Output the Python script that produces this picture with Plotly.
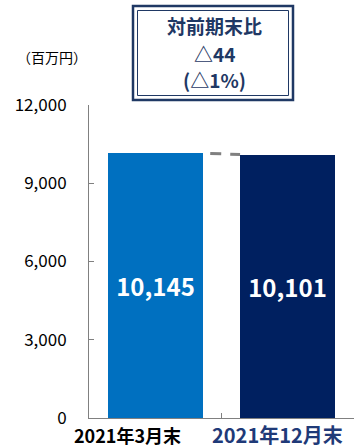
import plotly.graph_objects as go

# Data
categories = ["2021年3月末", "2021年12月末"]
values = [10145, 10101]
bar_colors = ["#0070C0", "#002060"]
y_ticks = [0, 3000, 6000, 9000, 12000]
unit_label = "（百万円）"
change_lines = ["対前期末比", "△44", "(△1%)"]

W, H = 355, 448
ML, MR, MT, MB = 89, 1, 105, 30
PW, PH = W - ML - MR, H - MT - MB


def px(x):
    return (x - ML) / PW


def py(y):
    return (H - MB - y) / PH


FONT = "Noto Sans CJK JP"
NAVY = "#1F3864"

fig = go.Figure()
fig.add_trace(go.Bar(
    x=categories,
    y=values,
    width=0.72,
    marker=dict(color=bar_colors, line=dict(width=0)),
    text=[f"{v:,}" for v in values],
    textposition="inside",
    insidetextanchor="middle",
    textfont=dict(family=FONT, size=24, color="white", weight="bold"),
    hoverinfo="skip",
))

shapes = [
    # dashed connector between the bar tops
    dict(type="line", xref="x", yref="y", x0=0.415, x1=0.64,
         y0=values[0], y1=values[1],
         line=dict(color="#808080", width=3, dash="11px,9px")),
    # double frame around the change box
    dict(type="rect", xref="paper", yref="paper",
         x0=px(133), x1=px(293), y0=py(100), y1=py(6),
         line=dict(color=NAVY, width=2.5)),
    dict(type="rect", xref="paper", yref="paper",
         x0=px(137.5), x1=px(288.5), y0=py(95.5), y1=py(10.5),
         line=dict(color=NAVY, width=1)),
]

annotations = []
# change box, one line per annotation
for line_text, y_pix in zip(change_lines, [25, 53, 80]):
    annotations.append(dict(
        text=line_text, xref="paper", yref="paper",
        x=px(214), y=py(y_pix), xanchor="center", yanchor="middle",
        showarrow=False,
        font=dict(family=FONT, size=19, color=NAVY, weight="bold")))

annotations += [
    dict(text=unit_label, xref="paper", yref="paper",
         x=px(52), y=py(57), xanchor="center", yanchor="middle",
         showarrow=False,
         font=dict(family=FONT, size=14, color="#000000")),
    dict(text=categories[0], xref="paper", yref="paper",
         x=px(127), y=py(435), xanchor="center", yanchor="middle",
         showarrow=False,
         font=dict(family=FONT, size=18, color="#000000", weight="bold")),
    dict(text=categories[1], xref="paper", yref="paper",
         x=px(277), y=py(434), xanchor="center", yanchor="middle",
         showarrow=False,
         font=dict(family=FONT, size=20, color="#1F3A78", weight="bold")),
]

fig.update_layout(
    width=W, height=H, autosize=False,
    margin=dict(l=ML, r=MR, t=MT, b=MB, pad=0),
    paper_bgcolor="white", plot_bgcolor="white",
    showlegend=False,
    shapes=shapes,
    annotations=annotations,
    bargap=0,
    xaxis=dict(
        type="category", range=[-0.5, 1.5],
        showticklabels=False, showgrid=False, zeroline=False,
        showline=True, linecolor="#808080", linewidth=1,
        ticks="inside", tickson="boundaries", ticklen=5,
        tickcolor="#808080", tickwidth=1,
    ),
    yaxis=dict(
        range=[0, 12000], tickvals=y_ticks, tickformat=",",
        showgrid=False, zeroline=False,
        showline=True, linecolor="#808080", linewidth=1,
        ticks="inside", ticklen=5, tickcolor="#808080", tickwidth=1,
        ticklabelstandoff=18,
        tickfont=dict(family=FONT, size=17, color="#000000"),
    ),
)

fig.write_html("out.html")
